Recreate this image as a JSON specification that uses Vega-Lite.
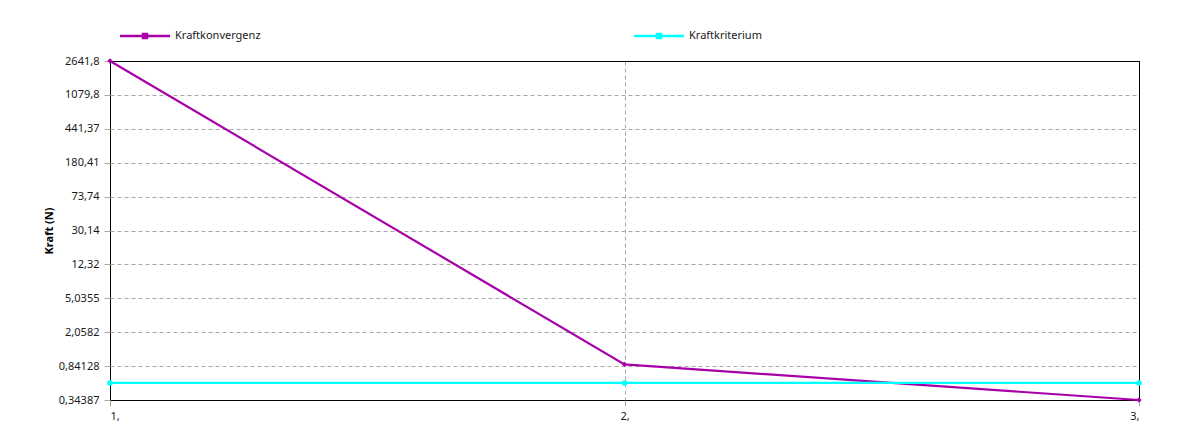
{
  "$schema": "https://vega.github.io/schema/vega-lite/v6.json",
  "width": 1029,
  "height": 339,
  "autosize": {"type": "none"},
  "padding": {"left": 110, "top": 61, "right": 40, "bottom": 39},
  "background": "white",
  "config": {
    "font": "Noto Sans",
    "view": {"stroke": "black", "strokeWidth": 1},
    "axis": {
      "labelFont": "Noto Sans",
      "labelFontSize": 11,
      "labelColor": "#1a1a1a",
      "gridWidth": 1,
      "tickColor": "#a8a8a8",
      "tickSize": 6,
      "domainColor": "black"
    },
    "legend": {"padding": 0}
  },
  "data": {
    "values": [
      {"iter": 1, "kraft": 2641.8, "serie": "Kraftkonvergenz"},
      {"iter": 2, "kraft": 0.88, "serie": "Kraftkonvergenz"},
      {"iter": 3, "kraft": 0.34387, "serie": "Kraftkonvergenz"},
      {"iter": 1, "kraft": 0.54, "serie": "Kraftkriterium"},
      {"iter": 2, "kraft": 0.54, "serie": "Kraftkriterium"},
      {"iter": 3, "kraft": 0.54, "serie": "Kraftkriterium"}
    ]
  },
  "encoding": {
    "x": {
      "field": "iter",
      "type": "quantitative",
      "scale": {"domain": [1, 3], "nice": false, "zero": false},
      "axis": {
        "title": null,
        "values": [1, 2, 3],
        "labelExpr": "datum.value + ','",
        "labelPadding": 4,
        "domain": false,
        "gridColor": {"condition": {"test": "datum.value == 1 || datum.value == 3", "value": "black"}, "value": "#a8a8a8"},
        "gridDash": {"condition": {"test": "datum.value == 1 || datum.value == 3", "value": []}, "value": [4, 3]}
      }
    },
    "y": {
      "field": "kraft",
      "type": "quantitative",
      "scale": {"type": "log", "domain": [0.34387, 2641.8], "nice": false, "zero": false},
      "axis": {
        "title": "Kraft (N)",
        "titleFont": "Noto Sans",
        "titleFontSize": 11,
        "titleFontWeight": "bold",
        "titleColor": "black",
        "titlePadding": 4,
        "values": [0.34387, 0.84128, 2.0582, 5.0355, 12.32, 30.14, 73.74, 180.41, 441.37, 1079.8, 2641.8],
        "labelExpr": "replace(toString(datum.value), '.', ',')",
        "labelPadding": 5,
        "domain": false,
        "gridColor": {"condition": {"test": "datum.value == 0.34387 || datum.value == 2641.8", "value": "black"}, "value": "#a8a8a8"},
        "gridDash": {"condition": {"test": "datum.value == 0.34387 || datum.value == 2641.8", "value": []}, "value": [4, 3]}
      }
    },
    "color": {
      "field": "serie",
      "type": "nominal",
      "scale": {"domain": ["Kraftkonvergenz", "Kraftkriterium"], "range": ["#a800a8", "#00ffff"]},
      "legend": {
        "title": null,
        "orient": "none",
        "legendX": 10,
        "legendY": -50,
        "direction": "horizontal",
        "columns": 2,
        "columnPadding": 373,
        "labelFont": "Noto Sans",
        "labelFontSize": 11,
        "labelColor": "#1a1a1a",
        "labelOffset": 5,
        "symbolType": "M-1,-0.05H1V0.05H-1Z M-0.13,-0.13H0.13V0.13H-0.13Z",
        "symbolSize": 2500,
        "symbolStrokeWidth": 0,
        "encode": {
          "symbols": {
            "update": {
              "fill": {"scale": "color", "field": "value"},
              "strokeWidth": {"value": 0},
              "opacity": {"value": 1}
            }
          }
        }
      }
    }
  },
  "layer": [
    {
      "mark": {"type": "line", "strokeWidth": 2.2}
    },
    {
      "transform": [{"filter": "datum.serie == 'Kraftkonvergenz'"}],
      "mark": {"type": "point", "filled": true, "size": 28, "opacity": 1, "shape": "diamond"}
    },
    {
      "transform": [{"filter": "datum.serie == 'Kraftkriterium'"}],
      "mark": {"type": "point", "filled": true, "size": 30, "opacity": 1, "shape": "circle"}
    }
  ]
}
